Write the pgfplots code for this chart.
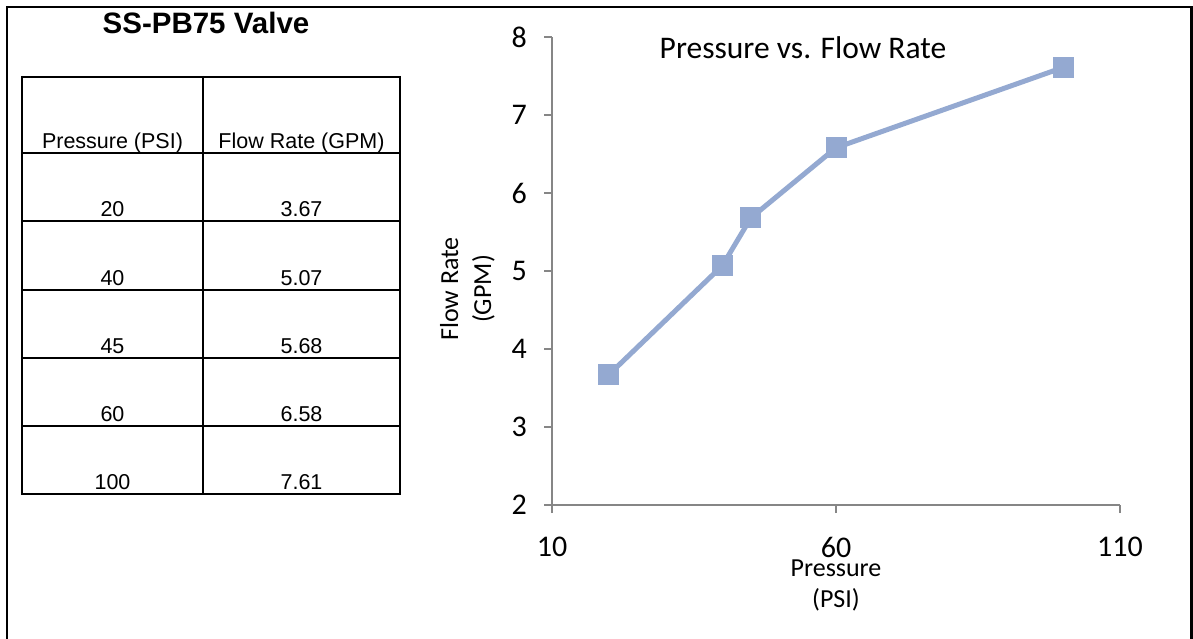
\documentclass[border=0pt]{standalone}
\usepackage{fontspec}
\setmainfont{Liberation Sans}
\newfontfamily\calibri{Carlito}
\usepackage{pgfplots}
\pgfplotsset{compat=1.18}
\definecolor{ser}{RGB}{148,169,209}
\definecolor{axg}{RGB}{134,134,134}
\begin{document}
\begin{tikzpicture}
\useasboundingbox (0pt,0pt) rectangle (1193pt,-639pt);
% outer frame
\draw[line width=2.6pt] (7pt,-660pt) -- (7pt,-7pt) -- (1191.5pt,-7pt) -- (1191.5pt,-660pt);
% table title
\node[anchor=base, inner sep=0pt, font=\bfseries\fontsize{29.5}{29.5}\selectfont] at (206pt,-33.5pt) {SS-PB75 Valve};
% table grid
\foreach \yy in {77,153,221,290,358,426,494} {\draw[line width=2.2pt] (21pt,-\yy pt) -- (401pt,-\yy pt);}
\foreach \xx in {22,203,400} {\draw[line width=2.2pt] (\xx pt,-76pt) -- (\xx pt,-495pt);}
\begin{scope}[every node/.style={anchor=base, inner sep=0pt, font=\fontsize{21.5}{21.5}\selectfont}]
\node at (112.5pt,-149pt) {Pressure (PSI)};
\node at (301.5pt,-149pt) {Flow Rate (GPM)};
\node at (112.5pt,-216.5pt) {20};   \node at (301.5pt,-216.5pt) {3.67};
\node at (112.5pt,-285.5pt) {40};   \node at (301.5pt,-285.5pt) {5.07};
\node at (112.5pt,-353.5pt) {45};   \node at (301.5pt,-353.5pt) {5.68};
\node at (112.5pt,-421.5pt) {60};   \node at (301.5pt,-421.5pt) {6.58};
\node at (112.5pt,-489.5pt) {100};  \node at (301.5pt,-489.5pt) {7.61};
\end{scope}
% chart
\begin{axis}[
  at={(552pt,-505pt)}, anchor=south west,
  scale only axis, width=568pt, height=468pt,
  xmin=10, xmax=110, ymin=2, ymax=8,
  axis lines=left,
  axis line style={-, axg, line width=1.5pt},
  every outer x axis line/.append style={-},
  every outer y axis line/.append style={-},
  xtick={10,60,110}, ytick={2,3,4,5,6,7,8},
  tick align=outside,
  major tick length=8pt,
  tick style={axg, line width=1.5pt},
  /pgf/number format/assume math mode=true,
  ticklabel style={font=\calibri\fontsize{30}{30}\selectfont, inner sep=0pt},
  yticklabel style={xshift=-17pt},
  xticklabel style={yshift=-24pt},
  clip=false,
]
\addplot[ser, line width=5pt, mark=square*, mark size=10pt, mark options={solid, fill=ser, draw=ser, line width=0pt}]
  coordinates {(20,3.67) (40,5.07) (45,5.68) (60,6.58) (100,7.61)};
\end{axis}
% chart texts
\begin{scope}[every node/.style={inner sep=0pt, anchor=base}]
\node[font=\calibri\fontsize{31.5}{31.5}\selectfont] at (803pt,-59pt) {Pressure vs. Flow Rate};
\node[font=\calibri\fontsize{26}{26}\selectfont] at (836pt,-576pt) {Pressure};
\node[font=\calibri\fontsize{26}{26}\selectfont] at (836pt,-607pt) {(PSI)};
\node[rotate=90, font=\calibri\fontsize{26}{26}\selectfont] at (458pt,-289pt) {Flow Rate};
\node[rotate=90, font=\calibri\fontsize{26}{26}\selectfont] at (491pt,-289pt) {(GPM)};
\end{scope}
\end{tikzpicture}
\end{document}
